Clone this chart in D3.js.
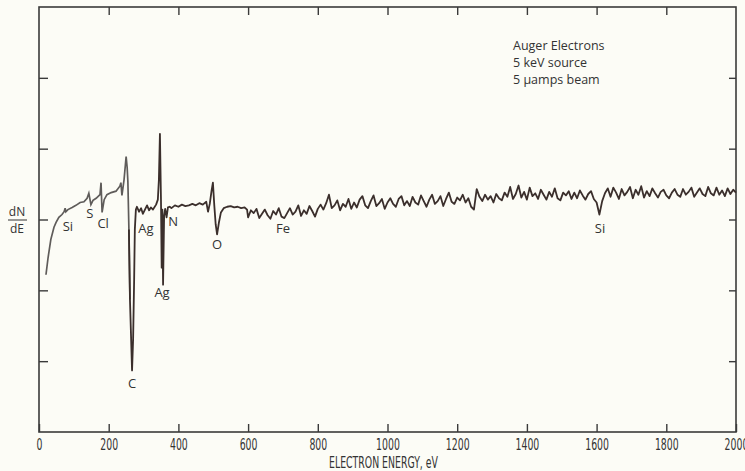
<!DOCTYPE html>
<html>
<head>
<meta charset="utf-8">
<script src="https://cdn.jsdelivr.net/npm/d3@7"></script>
<style>
  body { margin: 0; background: #fcfcf6; }
  svg { display: block; }
</style>
</head>
<body>
<svg width="745" height="471"></svg>
<script>
// low energy part of the spectrum (eV, dN/dE arbitrary units)
var lowEnergy = [20, 26, 34, 43, 49, 57, 66, 72, 75, 77, 83, 95, 106, 118, 129, 138, 143, 149, 155, 164,
    175, 178, 181, 187, 195, 207, 221, 232, 235, 238, 244, 250, 253, 255, 258, 261, 267, 270, 273, 275,
    278, 281, 287, 293, 298, 304, 310, 316, 321, 327, 336, 341, 344, 347, 350, 352, 354, 356, 359, 362,
    366, 370, 375, 380, 390, 400, 410, 420, 430, 440, 450, 460, 470, 480, 485, 490, 495, 499, 503, 507,
    511, 516, 522, 530, 540, 550, 560, 570, 580, 590, 597];
var lowValues = [-7.8, -5.4, -2.8, -1.1, -0.4, 0.3, 0.7, 1.1, 1.6, 1.1, 1.4, 1.7, 2.0, 2.4, 2.5, 3.0, 3.7, 2.1, 2.7, 3.0,
    3.5, 5.2, 1.0, 2.8, 3.5, 3.8, 4.0, 4.7, 5.2, 3.4, 5.6, 8.9, 7.3, 5.4, -1.4, -11.3, -21.3, -17, -8.5, -1.4,
    1.4, 1.8, 1.1, 1.6, 0.8, 1.4, 2.0, 1.3, 1.7, 1.4, 2.1, 2.8, 5.6, 12.1, 2.8, -6.8, 1.4, -9.2, 0.5, 1.5,
    0.3, 1.7, 1.8, 1.6, 2.0, 1.8, 2.1, 1.9, 2.0, 2.2, 2.0, 2.3, 2.1, 2.5, 1.1, 2.2, 4.0, 5.2, 2.0, -0.7,
    -2.1, -0.5, 1.0, 1.6, 1.8, 1.9, 1.7, 1.8, 1.6, 1.7, 1.4];

// 600 - 2000 eV, one reading every 8 eV
var highStart = 600, highStep = 8;
var highValues = [
    0.3, 1.3, 0.9, 1.5, 0.2, 0.8, 1.4, 0.6, 0.1, 1.2, 0.7, 1.6, 0.4,
    0.2, 0.9, 1.6, 0.7, 1.1, 2.0, 0.5, 1.3, 0.8, 1.9, 1.2, 0.4, 1.5,
    2.1, 1.4, 2.3, 3.5, 1.6, 2.0, 2.7, 1.3, 2.2, 1.8, 2.9, 1.5, 2.4,
    1.7, 2.8, 3.3, 2.0, 1.6, 2.6, 3.4, 1.9, 2.3, 2.9, 1.5, 2.4, 3.0,
    2.2, 1.8, 2.9, 3.3, 2.0, 2.6, 1.9, 3.2, 2.4, 2.1, 3.4, 2.6, 1.8,
    2.8, 3.5, 2.2, 2.6, 3.3, 1.9, 2.9, 3.8, 2.5, 2.2, 3.1, 2.7, 3.5,
    2.4, 3.0, 1.8, 1.4, 4.3, 3.2, 2.6, 3.5, 2.8, 3.3, 2.4, 3.6, 3.0,
    2.7, 3.8, 3.2, 4.6, 2.9, 3.6, 4.8, 3.1, 3.9, 2.8, 4.5, 3.3, 3.7,
    2.9, 4.2, 3.5, 2.8, 3.9, 3.2, 4.4, 3.0, 2.7, 3.8, 3.4, 4.0, 2.9,
    3.8, 3.0, 4.1, 3.4, 2.8, 3.6, 4.0, 2.9, 2.4, 0.7, 2.6, 3.7, 4.4,
    3.2, 4.5, 3.8, 2.9, 4.3, 3.4, 3.9, 4.6, 3.0, 4.2, 3.5, 4.7, 3.1,
    4.0, 3.3, 4.4, 3.7, 3.1, 3.9, 4.2, 3.4, 3.0, 3.8, 4.3, 3.5, 3.2,
    4.3, 3.5, 3.9, 4.5, 3.2, 3.8, 4.4, 3.6, 3.3, 4.6, 3.7, 3.4, 4.5,
    3.5, 4.1, 3.3, 4.4, 3.6, 4.2, 3.8];

var xTicks = [0, 200, 400, 600, 800, 1000, 1200, 1400, 1600, 1800, 2000];
var yTicks = [-20, -10, 0, 10, 20];

var peakNames = ["Si", "S", "Cl", "C", "Ag", "Ag", "N", "O", "Fe", "Si"];
var peakEnergy = [83, 146, 184, 267, 307, 353, 385, 511, 700, 1610];
var peakLevel = [-1.0, 0.8, -0.6, -23.2, -1.3, -10.3, -0.3, -3.5, -1.3, -1.3];

var legendLines = ["Auger Electrons", "5 keV source", "5 \u03bcamps beam"];

var svg = d3.select("svg"),
    plotLeft = 39, plotRight = 736, plotTop = 7, plotBottom = 432;

var x = d3.scaleLinear().domain([0, 2000]).range([plotLeft, plotRight]);
var y = d3.scaleLinear().domain([-30, 30]).range([plotBottom, plotTop]);

var lowPts = lowEnergy.map(function(e, i) { return [e, lowValues[i]]; });
var highPts = highValues.map(function(v, i) { return [highStart + i * highStep, v]; });
var allPts = lowPts.concat(highPts);

var line = d3.line()
    .x(function(d) { return x(d[0]); })
    .y(function(d) { return y(d[1]); });

// frame
svg.append("rect")
    .attr("x", plotLeft).attr("y", plotTop)
    .attr("width", plotRight - plotLeft).attr("height", plotBottom - plotTop)
    .attr("fill", "none").attr("stroke", "#3a3a3a").attr("stroke-width", 1.6);

var axisFont = "'DejaVu Sans Condensed', 'Liberation Sans Narrow', sans-serif";

var gx = svg.append("g").attr("transform", "translate(0," + plotBottom + ")")
    .call(d3.axisBottom(x).tickValues(xTicks).tickSize(-8).tickFormat(d3.format("d")));
svg.append("g").attr("transform", "translate(0," + plotTop + ")")
    .call(d3.axisTop(x).tickValues(xTicks.slice(1, -1)).tickSize(-8).tickFormat(""));
svg.append("g").attr("transform", "translate(" + plotLeft + ",0)")
    .call(d3.axisLeft(y).tickValues(yTicks).tickSize(-9).tickFormat(""));
svg.append("g").attr("transform", "translate(" + plotRight + ",0)")
    .call(d3.axisRight(y).tickValues(yTicks).tickSize(-7).tickFormat(""));

svg.selectAll(".domain").remove();
svg.selectAll(".tick line").attr("stroke", "#3a3a3a").attr("stroke-width", 1.4);
gx.selectAll("text")
    .attr("font-family", axisFont).attr("font-size", 13).attr("fill", "#333")
    .attr("dy", null)
    .attr("transform", "translate(0,18) scale(0.8,1.2)")
    .attr("y", 0);

svg.append("text")
    .attr("transform", "translate(" + ((plotLeft + plotRight) / 2 - 4) + ",468) scale(0.8,1.2)")
    .attr("text-anchor", "middle")
    .attr("font-family", axisFont).attr("font-size", 13).attr("fill", "#333")
    .text("ELECTRON ENERGY,  eV");

// dN/dE label
var labelFont = "'Open Sans', 'DejaVu Sans', sans-serif";
svg.append("text").attr("x", 17).attr("y", 216).attr("text-anchor", "middle")
    .attr("font-family", labelFont).attr("font-size", 12).attr("fill", "#333").text("dN");
svg.append("line").attr("x1", 8).attr("x2", 27).attr("y1", 220).attr("y2", 220)
    .attr("stroke", "#333").attr("stroke-width", 1);
svg.append("text").attr("x", 17).attr("y", 233).attr("text-anchor", "middle")
    .attr("font-family", labelFont).attr("font-size", 12).attr("fill", "#333").text("dE");

// spectrum trace
svg.append("path")
    .datum(allPts.filter(function(d) { return d[0] <= 261; }))
    .attr("d", line)
    .attr("fill", "none").attr("stroke", "#5f5c5a").attr("stroke-width", 1.7);
svg.append("path")
    .datum(allPts.filter(function(d) { return d[0] >= 258; }))
    .attr("d", line)
    .attr("fill", "none").attr("stroke", "#3b2f2c").attr("stroke-width", 1.8)
    .attr("stroke-linejoin", "round");

// peak labels
svg.append("g").selectAll("text")
    .data(peakNames)
    .enter().append("text")
    .attr("x", function(d, i) { return x(peakEnergy[i]); })
    .attr("y", function(d, i) { return y(peakLevel[i]); })
    .attr("dy", "0.35em")
    .attr("text-anchor", "middle")
    .attr("font-family", labelFont).attr("font-size", 13).attr("fill", "#333")
    .text(function(d) { return d; });

// legend
svg.append("g").selectAll("text")
    .data(legendLines)
    .enter().append("text")
    .attr("x", 513)
    .attr("y", function(d, i) { return 50 + i * 17; })
    .attr("font-family", labelFont).attr("font-size", 12.5).attr("fill", "#333")
    .text(function(d) { return d; });
</script>
</body>
</html>
